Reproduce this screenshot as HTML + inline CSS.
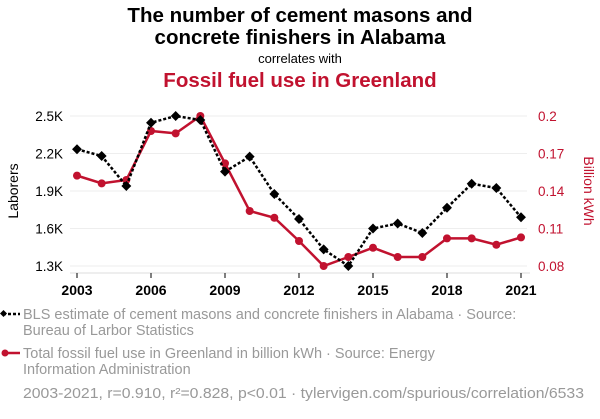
<!DOCTYPE html>
<html><head><meta charset="utf-8"><style>
body{margin:0;width:600px;height:414px;background:#fff;font-family:"Liberation Sans",sans-serif;overflow:hidden}
svg text{font-family:"Liberation Sans",sans-serif}
</style></head><body>
<svg id="c" width="600" height="414">
<text x="300" y="22" text-anchor="middle" font-size="20.5" font-weight="bold" fill="#000">The number of cement masons and</text>
<text x="300" y="44" text-anchor="middle" font-size="20.5" font-weight="bold" fill="#000">concrete finishers in Alabama</text>
<text x="300" y="63" text-anchor="middle" font-size="13" fill="#000">correlates with</text>
<text x="300" y="87" text-anchor="middle" font-size="20.5" font-weight="bold" fill="#c1122f">Fossil fuel use in Greenland</text>
<text transform="translate(18,191) rotate(-90)" text-anchor="middle" font-size="14" fill="#000">Laborers</text>
<text transform="translate(584,191) rotate(90)" text-anchor="middle" font-size="14" fill="#c1122f">Billion kWh</text>
<g id="grid"></g><g id="axes"></g><g id="series"></g>
<g>
<line x1="3" y1="314" x2="20" y2="314" stroke="#000" stroke-width="2.5" stroke-dasharray="3,2"/>
<rect x="1" y="311" width="5" height="5" transform="rotate(45 3.5 313.5)" fill="#000"/>
<text x="23" y="319" font-size="14.5" fill="#999">BLS estimate of cement masons and concrete finishers in Alabama · Source:</text>
<text x="23" y="335" font-size="14.5" fill="#999">Bureau of Larbor Statistics</text>
<line x1="3" y1="353" x2="20" y2="353" stroke="#c1122f" stroke-width="2.5"/>
<circle cx="5" cy="353" r="3.5" fill="#c1122f"/>
<text x="23" y="358" font-size="14.5" fill="#999">Total fossil fuel use in Greenland in billion kWh · Source: Energy</text>
<text x="23" y="374" font-size="14.5" fill="#999">Information Administration</text>
<text x="23" y="398" font-size="14.5" fill="#999" textLength="561" lengthAdjust="spacingAndGlyphs">2003-2021, r=0.910, r²=0.828, p&lt;0.01 · tylervigen.com/spurious/correlation/6533</text>
</g>
</svg>
<script>
const years=[2003,2004,2005,2006,2007,2008,2009,2010,2011,2012,2013,2014,2015,2016,2017,2018,2019,2020,2021];
const laborers=[2234,2180,1940,2446,2500,2468,2055,2175,1876,1676,1433,1300,1600,1640,1564,1766,1958,1924,1690];
const fuel=[0.1523,0.1461,0.1488,0.188,0.1861,0.2,0.1621,0.124,0.1186,0.1,0.08,0.0872,0.0946,0.0872,0.0872,0.1021,0.1021,0.097,0.1029];
const xTicks=[2003,2006,2009,2012,2015,2018,2021];
const leftTicks=[1300,1600,1900,2200,2500];
const leftLabels=["1.3K","1.6K","1.9K","2.2K","2.5K"];
const rightTicks=[0.08,0.11,0.14,0.17,0.2];
const rightLabels=["0.08","0.11","0.14","0.17","0.2"];
const NS="http://www.w3.org/2000/svg";
const x=v=>77+(v-2003)*(521-77)/18;
const yL=v=>266-(v-1300)*150/1200;
const yR=v=>266-(v-0.08)*150/0.12;
function mk(tag,attrs,parent){const e=document.createElementNS(NS,tag);for(const k in attrs)e.setAttribute(k,attrs[k]);parent.appendChild(e);return e;}
const grid=document.getElementById('grid'),axes=document.getElementById('axes'),ser=document.getElementById('series');
leftTicks.forEach((t,i)=>{
 const g=mk('line',{x1:70,x2:527,y1:yL(t),y2:yL(t),stroke:'#eee','stroke-width':1},grid);
 
 
 const tx=mk('text',{x:63,y:yL(t)+5,'text-anchor':'end','font-size':13.5,fill:'#000'},axes);tx.textContent=leftLabels[i];
 
 
});
rightTicks.forEach((t,i)=>{
 const tx=mk('text',{x:538,y:yR(t)+5,'font-size':13.5,fill:'#c1122f'},axes);tx.textContent=rightLabels[i];
 
 
});
mk('line',{x1:70,x2:530,y1:273,y2:273,stroke:'#ddd'},axes);
xTicks.forEach(t=>{
 mk('line',{x1:x(t),x2:x(t),y1:273,y2:278,stroke:'#000'},axes);
 const tx=mk('text',{x:x(t),y:295,'text-anchor':'middle','font-size':14,'font-weight':'bold',fill:'#000'},axes);tx.textContent=t;
 
 
});
const rl=mk('polyline',{points:years.map((y,i)=>x(y)+','+yR(fuel[i])).join(' '),fill:'none',stroke:'#c1122f','stroke-width':2.5},ser);


years.forEach((y,i)=>{const c=mk('circle',{cx:x(y),cy:yR(fuel[i]),r:4,fill:'#c1122f'},ser);
 
 });
const bl=mk('polyline',{points:years.map((y,i)=>x(y)+','+yL(laborers[i])).join(' '),fill:'none',stroke:'#000','stroke-width':2.5,'stroke-dasharray':'3,2'},ser);


years.forEach((y,i)=>{const px=x(y),py=yL(laborers[i]);const r=mk('rect',{x:px-3.5,y:py-3.5,width:7,height:7,fill:'#000',transform:`rotate(45 ${px} ${py})`},ser);
 
 });
</script>
</body></html>
